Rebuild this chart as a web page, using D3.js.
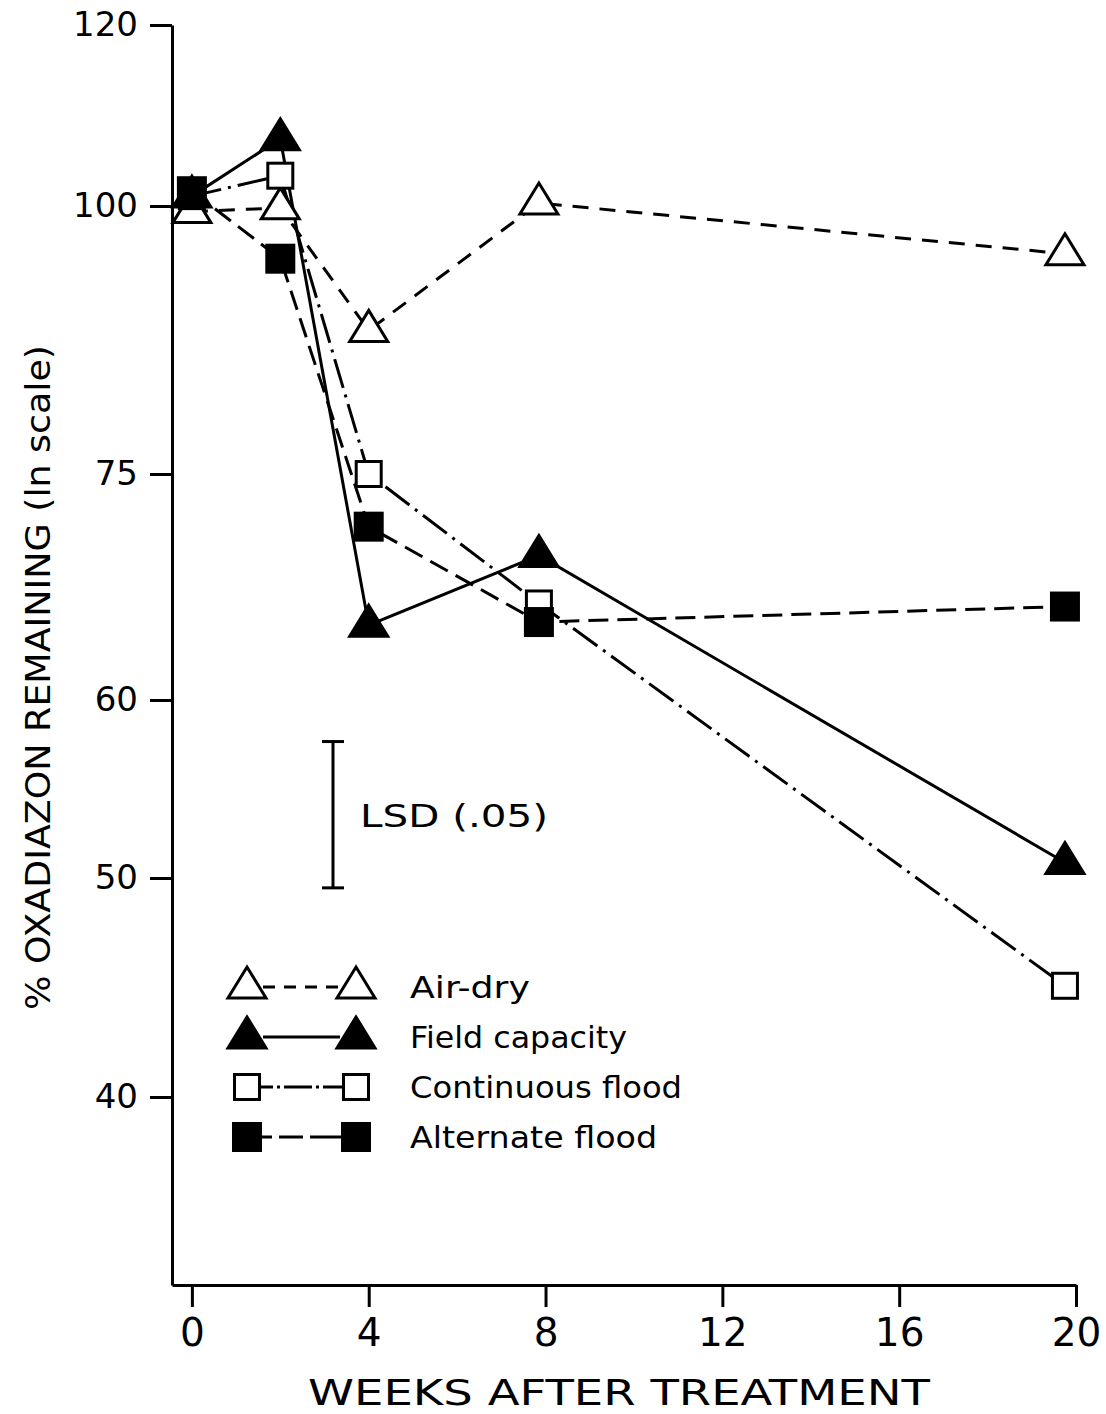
<!DOCTYPE html>
<html><head><meta charset="utf-8">
<script src="https://cdn.jsdelivr.net/npm/d3@7"></script>
<style>
body{margin:0;background:#fff}
svg{display:block}
text{font-family:"DejaVu Sans",sans-serif;fill:#000}
</style>
</head><body><svg id="c" width="1106" height="1414"></svg>
<script>
// ---- data ----
const weeks = [0, 2, 4, 7.85, 19.75];
const airDry          = [99.4, 99.8, 87.5, 100.3, 95.0];
const fieldCapacity   = [101, 107, 64.6, 69.2, 50.8];
const continuousFlood = [101, 103.1, 75, 66, 44.8];
const alternateFlood  = [101.5, 94.5, 71.2, 64.8, 65.8];
const seriesNames = ["Air-dry", "Field capacity", "Continuous flood", "Alternate flood"];
const xTicks = [0, 4, 8, 12, 16, 20];
const yTicks = [40, 50, 60, 75, 100, 120];
const lsdRange = [49.5, 57.5];
const lsdLabel = "LSD (.05)";
const xTitle = "WEEKS AFTER TREATMENT";
const yTitle = "% OXADIAZON REMAINING (ln scale)";

const svg = d3.select("#c");
const x = d3.scaleLinear().domain([-0.45, 20]).range([172, 1076]);
// hand-drawn ln axis: piecewise log scale through the printed tick positions
const y = d3.scaleLog().domain([33, 40, 50, 60, 75, 100, 120]).range([1285, 1097, 878, 700, 474, 206, 25]);

const SW = 3;
// axes
const gy = svg.append("g").attr("transform", "translate(172,0)")
  .call(d3.axisLeft(y).tickValues(yTicks).tickSize(22).tickSizeOuter(0).tickPadding(12).tickFormat(d3.format("d")));
const gx = svg.append("g").attr("transform", "translate(0,1285)")
  .call(d3.axisBottom(x).tickValues(xTicks).tickSize(22).tickSizeOuter(0).tickPadding(11).tickFormat(d3.format("d")));
[gx, gy].forEach(g => {
  g.select(".domain").attr("stroke", "#000").attr("stroke-width", SW);
  g.selectAll(".tick line").attr("stroke", "#000").attr("stroke-width", SW);
  g.selectAll("text").attr("fill", "#000").style("font-family", '"DejaVu Sans",sans-serif');
});
gy.selectAll("text").style("font-size", "34px");
gx.selectAll("text").style("font-size", "39px");

// titles
svg.append("text").attr("x", 308).attr("y", 1405).attr("textLength", 622).attr("lengthAdjust", "spacingAndGlyphs")
  .style("font-size", "35px").text(xTitle);
svg.append("text").attr("transform", "translate(50,1010) rotate(-90)").attr("textLength", 665).attr("lengthAdjust", "spacingAndGlyphs")
  .style("font-size", "34px").text(yTitle);

// series
const series = [
  {name: seriesNames[0], values: airDry, dash: "16,11", legDash: "12,9", marker: "tri", fill: "#fff"},
  {name: seriesNames[1], values: fieldCapacity, dash: null, legDash: null, marker: "tri", fill: "#000"},
  {name: seriesNames[2], values: continuousFlood, dash: "30,7,3,7", legDash: "13,4,3,4,28,4,3,4,30", marker: "sq", fill: "#fff"},
  {name: seriesNames[3], values: alternateFlood, dash: "20,9", legDash: "12,7,24,7,40", marker: "sq", fill: "#000"}
];
const line = d3.line().x((d, i) => x(weeks[i])).y(d => y(d));
series.forEach(s => {
  svg.append("path").attr("d", line(s.values)).attr("fill", "none").attr("stroke", "#000")
    .attr("stroke-width", SW).attr("stroke-dasharray", s.dash);
});
function triPath(cx, cy) {
  return `M${cx},${cy - 20}L${cx + 19},${cy + 11}L${cx - 19},${cy + 11}Z`;
}
function drawMarker(g, s, cx, cy) {
  if (s.marker === "tri") {
    g.append("path").attr("d", triPath(cx, cy)).attr("fill", s.fill).attr("stroke", "#000")
      .attr("stroke-width", SW).attr("stroke-linejoin", "miter");
  } else {
    const h = s.fill === "#000" ? 27 : 25;
    g.append("rect").attr("x", cx - h / 2).attr("y", cy - h / 2).attr("width", h).attr("height", h)
      .attr("fill", s.fill).attr("stroke", "#000").attr("stroke-width", SW);
  }
}
const gm = svg.append("g");
[0, 2, 1, 3].forEach(k => {
  const s = series[k];
  s.values.forEach((v, i) => drawMarker(gm, s, x(weeks[i]), y(v)));
});

// LSD bar
const lx = 333;
svg.append("line").attr("x1", lx).attr("x2", lx).attr("y1", y(lsdRange[0])).attr("y2", y(lsdRange[1])).attr("stroke", "#000").attr("stroke-width", SW);
lsdRange.forEach(v => svg.append("line").attr("x1", lx - 11).attr("x2", lx + 11).attr("y1", y(v)).attr("y2", y(v)).attr("stroke", "#000").attr("stroke-width", SW));
svg.append("text").attr("x", 360).attr("y", 827).attr("textLength", 188).attr("lengthAdjust", "spacingAndGlyphs")
  .style("font-size", "32px").text(lsdLabel);

// legend
const legRows = [987, 1037, 1087, 1137];
const legWidths = [120, 217, 272, 247];
series.forEach((s, k) => {
  const ry = legRows[k];
  const x1 = 247, x2 = 356;
  const gap = s.marker === "tri" ? 16 : 13;
  svg.append("line").attr("x1", x1 + gap).attr("x2", x2 - gap).attr("y1", ry).attr("y2", ry).attr("stroke", "#000")
    .attr("stroke-width", SW).attr("stroke-dasharray", s.legDash);
  drawMarker(svg, s, x1, ry);
  drawMarker(svg, s, x2, ry);
  svg.append("text").attr("x", 410).attr("y", ry + 11).attr("textLength", legWidths[k]).attr("lengthAdjust", "spacingAndGlyphs")
    .style("font-size", "30px").text(s.name);
});
</script>
</body></html>
